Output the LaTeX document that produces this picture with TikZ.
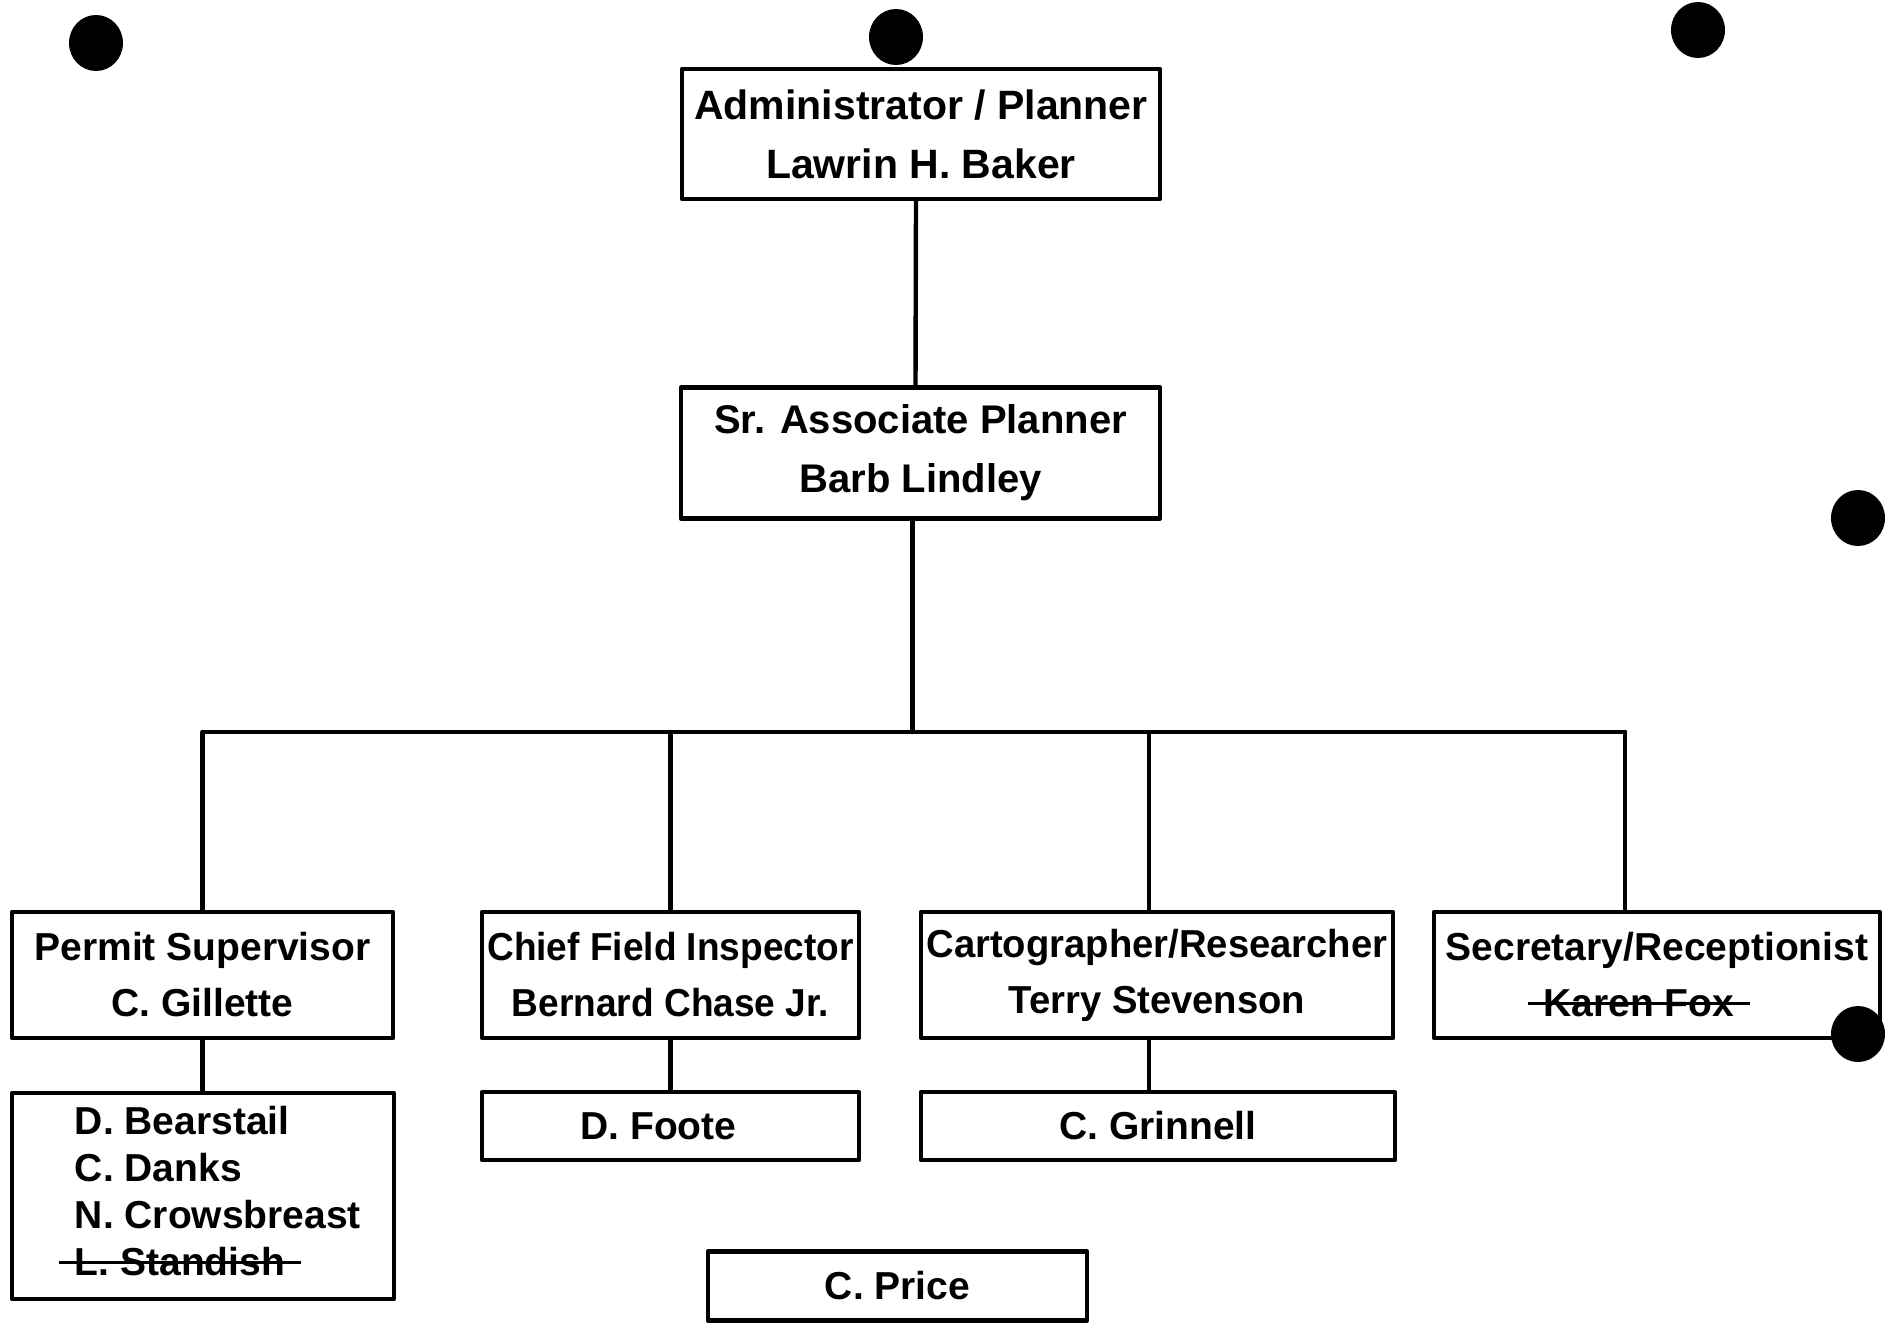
\documentclass[tikz,border=0pt]{standalone}
\usepackage{fontspec}
\setmainfont{Liberation Sans}
\newsavebox\strikebox
\newcommand\struck[1]{\sbox\strikebox{#1}\rlap{\kern-0.4em\rule[0.3em]{\dimexpr\wd\strikebox+0.8em\relax}{1.5pt}}\usebox\strikebox}
\begin{document}
\begin{tikzpicture}[x=0.5pt,y=-0.5pt,line join=round,line cap=round,
font=\bfseries\fontsize{19.5}{28}\selectfont,
box/.style={draw,line width=2.2pt,inner sep=0pt,align=center},
link/.style={line width=2.2pt}]
\useasboundingbox (0,0) rectangle (1890,1323);
% top of the chart
\node[box,minimum width=239pt,minimum height=65pt,font=\bfseries\fontsize{20.5}{29.5}\selectfont] (admin) at (921,134) {Administrator / Planner\\Lawrin H. Baker};
\node[box,minimum width=239.5pt,minimum height=65.5pt,font=\bfseries\fontsize{20}{29.5}\selectfont] (sr) at (920.5,453) {Sr. Associate Planner\\Barb Lindley};
% second row
\node[box,minimum width=190.5pt,minimum height=63pt] (permit) at (202.5,975) {Permit Supervisor\\C. Gillette};
\node[box,minimum width=188.5pt,minimum height=63pt,font=\bfseries\fontsize{19.5}{28}\selectfont\addfontfeature{FakeStretch=0.95}] (chief) at (670.5,975) {Chief Field Inspector\\Bernard Chase Jr.};
\node[box,minimum width=236pt,minimum height=63pt,font=\bfseries\fontsize{19.5}{28}\selectfont\addfontfeature{FakeStretch=0.98}] (carto) at (1157,975) {Cartographer/Researcher\\Terry Stevenson};
\node[box,minimum width=223pt,minimum height=63pt] (sec) at (1657,975) {Secretary/Receptionist\\\struck{Karen Fox}\hspace*{18pt}};
% staff boxes
\node[box,minimum width=191pt,minimum height=103pt,font=\bfseries\fontsize{19.5}{23.5}\selectfont] (team) at (203,1196) {\begin{tabular}{@{\hspace{15pt}}l@{}}D. Bearstail\\C. Danks\\N. Crowsbreast\\\struck{L. Standish}\end{tabular}};
\node[box,minimum width=188.5pt,minimum height=34pt] (foote) at (670.5,1126) {D. Foote\hspace*{12pt}};
\node[box,minimum width=237pt,minimum height=34pt] (grinnell) at (1158,1126) {C. Grinnell};
\node[box,minimum width=189.5pt,minimum height=34.5pt] (price) at (897.5,1286) {C. Price};
% connectors
\coordinate (busL) at (203,732);
\coordinate (busR) at (1625,732);
\draw[link] ([xshift=-2.5pt]admin.south)--([xshift=-2.5pt]sr.north);
\draw[link] ([xshift=-4pt]sr.south)--([xshift=-4pt]sr.south|-busL);
\draw[link] (busL)--(busR);
\foreach \unit/\dx in {permit/0,chief/0,carto/-4,sec/-16}{\draw[link] ([xshift=\dx pt]\unit.north)--([xshift=\dx pt]\unit.north|-busL);}
\draw[link] (permit.south)--(permit.south|-team.north);
\draw[link] (chief.south)--(chief.south|-foote.north);
\draw[link] ([xshift=-4pt]carto.south)--([xshift=-4pt]carto.south|-grinnell.north);
% punch holes
\foreach \hx/\hy in {96/43,896/37,1698/30,1858/518,1858/1034}{\fill (\hx,\hy) ellipse[x radius=13.5pt,y radius=14pt];}
\end{tikzpicture}
\end{document}
